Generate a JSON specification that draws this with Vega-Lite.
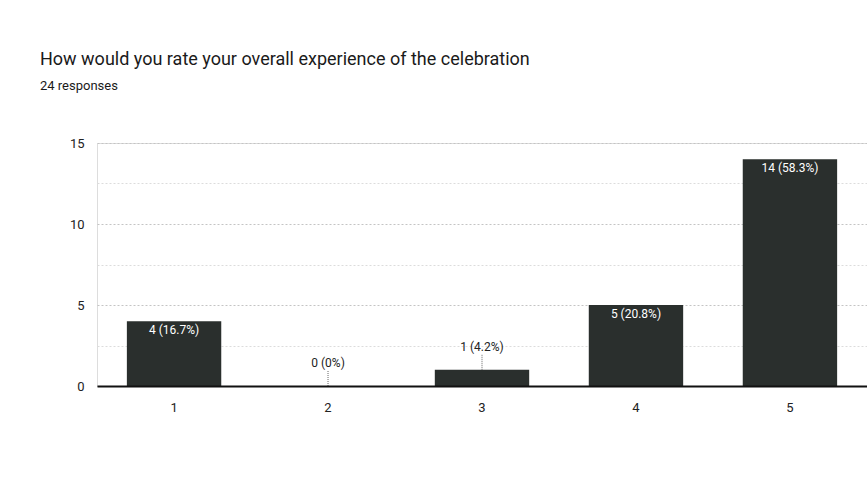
{
  "$schema": "https://vega.github.io/schema/vega-lite/v6.json",
  "width": 770,
  "height": 243,
  "autosize": {"type": "none"},
  "padding": {"left": 97, "top": 143, "right": 0, "bottom": 108},
  "background": "#ffffff",
  "title": {
    "text": "How would you rate your overall experience of the celebration",
    "subtitle": "24 responses",
    "anchor": "start",
    "frame": "group",
    "dx": -57,
    "offset": 44,
    "font": "Roboto",
    "fontSize": 18,
    "fontWeight": "normal",
    "color": "#1a1a1a",
    "subtitleFont": "Roboto",
    "subtitleFontSize": 13,
    "subtitleFontWeight": "normal",
    "subtitleColor": "#1a1a1a",
    "subtitlePadding": 11
  },
  "data": {
    "values": [
      {"rating": "1", "count": 4, "label": "4 (16.7%)"},
      {"rating": "2", "count": 0, "label": "0 (0%)"},
      {"rating": "3", "count": 1, "label": "1 (4.2%)"},
      {"rating": "4", "count": 5, "label": "5 (20.8%)"},
      {"rating": "5", "count": 14, "label": "14 (58.3%)"}
    ]
  },
  "encoding": {
    "x": {
      "field": "rating",
      "type": "nominal",
      "sort": null,
      "scale": {"paddingInner": 0.387, "paddingOuter": 0.194},
      "axis": {
        "title": null,
        "labelAngle": 0,
        "ticks": false,
        "domainColor": "#111111",
        "domainWidth": 2,
        "labelPadding": 15,
        "labelFont": "Roboto",
        "labelFontSize": 13,
        "labelColor": "#222222",
        "grid": false,
        "zindex": 1
      }
    },
    "y": {
      "field": "count",
      "type": "quantitative",
      "scale": {"domain": [0, 15], "nice": false},
      "axis": {
        "title": null,
        "values": [0, 2.5, 5, 7.5, 10, 12.5, 15],
        "labelExpr": "datum.value % 5 == 0 ? datum.label : ''",
        "ticks": false,
        "domain": false,
        "labelPadding": 13,
        "labelFont": "Roboto",
        "labelFontSize": 13,
        "labelColor": "#222222",
        "grid": true,
        "gridColor": {"condition": {"test": "datum.value % 5 == 0", "value": "#c4c4c4"}, "value": "#dcdcdc"},
        "gridDash": [2, 2],
        "gridWidth": 1
      }
    }
  },
  "layer": [
    {
      "mark": {"type": "bar", "color": "#2a2f2d"}
    },
    {
      "transform": [{"filter": "datum.count >= 4"}],
      "mark": {"type": "text", "color": "#ffffff", "font": "Roboto", "fontSize": 12, "baseline": "middle", "dy": 9},
      "encoding": {"text": {"field": "label"}}
    },
    {
      "transform": [{"filter": "datum.count < 4"}],
      "mark": {"type": "rule", "color": "#666666", "strokeDash": [1, 1], "y2Offset": -15},
      "encoding": {"y2": {"field": "count"}}
    },
    {
      "transform": [{"filter": "datum.count < 4"}],
      "mark": {"type": "text", "color": "#222222", "font": "Roboto", "fontSize": 12, "baseline": "middle", "dy": -23},
      "encoding": {"text": {"field": "label"}}
    }
  ]
}
